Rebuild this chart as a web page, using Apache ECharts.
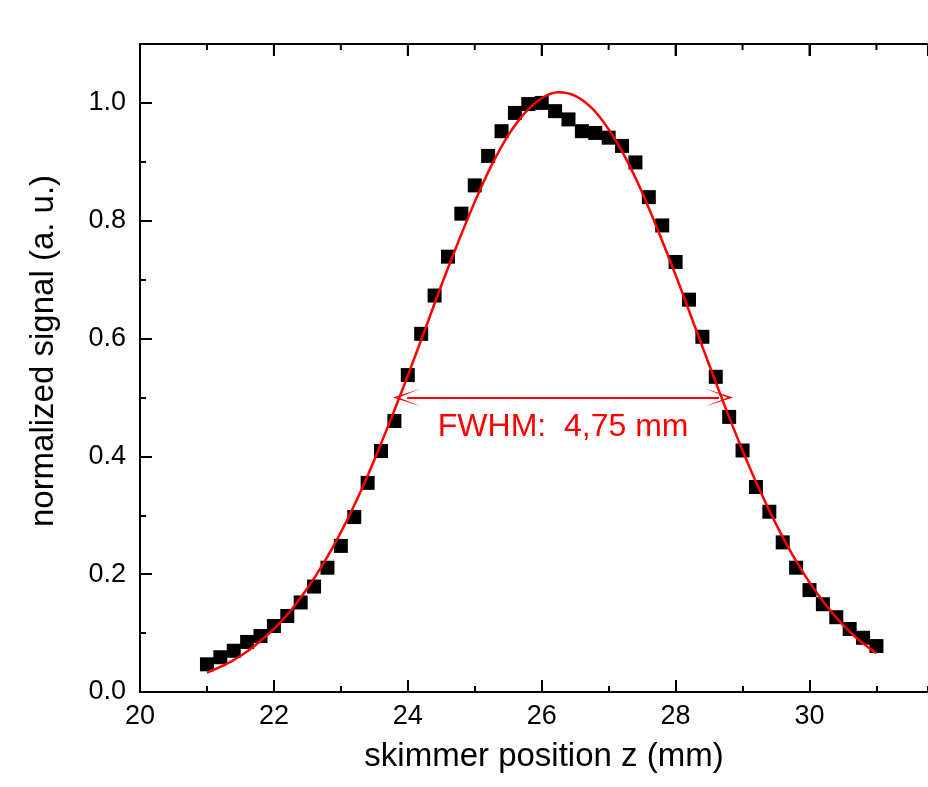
<!DOCTYPE html>
<html>
<head>
<meta charset="utf-8">
<script src="https://cdn.jsdelivr.net/npm/echarts@6/dist/echarts.min.js"></script>
<style>
html,body{margin:0;padding:0;background:#fff;}
#chart{width:928px;height:787px;}
</style>
</head>
<body>
<div id="chart"></div>
<script>
// measured data points (skimmer position z in mm, normalized signal)
var zPos = [21.0,21.2,21.4,21.6,21.8,22.0,22.2,22.4,22.6,22.8,23.0,23.2,23.4,23.6,23.8,24.0,24.2,24.4,24.6,24.8,
            25.0,25.2,25.4,25.6,25.8,26.0,26.2,26.4,26.6,26.8,27.0,27.2,27.4,27.6,27.8,28.0,28.2,28.4,28.6,28.8,
            29.0,29.2,29.4,29.6,29.8,30.0,30.2,30.4,30.6,30.8,31.0];
var signal = [0.047,0.059,0.070,0.085,0.095,0.112,0.129,0.152,0.179,0.211,0.248,0.297,0.355,0.409,0.460,0.538,0.608,0.673,0.739,0.812,
              0.860,0.910,0.952,0.983,0.998,1.000,0.986,0.972,0.952,0.949,0.941,0.927,0.899,0.840,0.792,0.730,0.666,0.603,0.535,0.467,
              0.410,0.348,0.306,0.254,0.211,0.173,0.149,0.127,0.107,0.092,0.078];
// fit curve
var fitZ = [21.0,21.25,21.5,21.75,22.0,22.25,22.5,22.75,23.0,23.25,23.5,23.75,24.0,24.25,24.5,24.75,25.0,25.25,25.5,25.75,
            26.0,26.25,26.5,26.75,27.0,27.25,27.5,27.75,28.0,28.25,28.5,28.75,29.0,29.25,29.5,29.75,30.0,30.25,30.5,30.75,31.0];
var fitY = [0.033,0.045,0.061,0.082,0.107,0.138,0.176,0.220,0.271,0.329,0.394,0.464,0.537,0.613,0.690,0.763,0.832,0.894,0.945,0.983,
            1.008,1.018,1.012,0.991,0.955,0.907,0.848,0.780,0.708,0.632,0.556,0.481,0.410,0.344,0.285,0.232,0.186,0.147,0.114,0.087,0.066];
// FWHM annotation
var fwhmStart = 23.99, fwhmEnd = 28.65, fwhmLevel = 0.5;
var fwhmText = 'FWHM:  4,75 mm';
// axis ranges / ticks
var xMin = 20, xMax = 31.77, xStep = 2, xMinorStep = 1;
var yMin = 0, yMax = 1.1, yStep = 0.2, yMinorStep = 0.1;
// tick positions along the top frame edge (mm)
var topMajorTicks = [22, 24, 26, 28, 30];
var topMinorTicks = [21, 23, 25, 27, 29, 31];

var FONT = 'Arial, "Liberation Sans", sans-serif';
var scatterData = zPos.map(function(z,i){return [z, signal[i]];});
var fitData = fitZ.map(function(z,i){return [z, fitY[i]];});
var topMajorData = topMajorTicks.map(function(z){return [z, yMax];});
var topMinorData = topMinorTicks.map(function(z){return [z, yMax];});

function axLine(){ return {show:true, onZero:false, lineStyle:{color:'#000', width:2}}; }
function noLine(){ return {show:false, onZero:false}; }
function tick(len){ return {show:true, inside:true, length:len, lineStyle:{color:'#000', width:2}}; }

var chart = echarts.init(document.getElementById('chart'));
chart.setOption({
  animation:false,
  grid:{left:140, top:44, bottom:95, right:0},
  xAxis:[{
    type:'value', position:'bottom', min:xMin, max:xMax, interval:xStep,
    name:'skimmer position z (mm)', nameLocation:'middle', nameGap:48,
    nameTextStyle:{fontFamily:FONT, fontSize:33, color:'#000', padding:[0,0,0,20]},
    axisLine:axLine(), axisTick:tick(12),
    axisLabel:{fontFamily:FONT, fontSize:27, color:'#000', margin:11, showMaxLabel:false},
    splitLine:{show:false}
  },{
    type:'value', position:'top', min:xMin, max:xMax, interval:xStep,
    axisLine:axLine(), axisTick:tick(12), axisLabel:{show:false}, splitLine:{show:false}
  },{
    type:'value', position:'bottom', min:xMin, max:xMax, interval:xMinorStep,
    axisLine:noLine(), axisTick:tick(6), axisLabel:{show:false}, splitLine:{show:false}
  }],
  yAxis:[{
    type:'value', position:'left', min:yMin, max:yMax, interval:yStep,
    name:'normalized signal (a. u.)', nameLocation:'middle', nameGap:80,
    nameTextStyle:{fontFamily:FONT, fontSize:33, color:'#000', padding:[0,0,0,34]},
    axisLine:axLine(), axisTick:tick(12),
    axisLabel:{fontFamily:FONT, fontSize:27, color:'#000', margin:14, showMaxLabel:false,
      formatter:function(v){return v.toFixed(1);}},
    splitLine:{show:false}
  },{
    type:'value', position:'left', min:yMin, max:yMax, interval:yMinorStep,
    axisLine:noLine(), axisTick:tick(6), axisLabel:{show:false}, splitLine:{show:false}
  }],
  series:[{
    type:'scatter', xAxisIndex:0, yAxisIndex:0, data:scatterData,
    symbol:'rect', symbolSize:14, itemStyle:{color:'#000', opacity:1}, silent:true
  },{
    type:'line', xAxisIndex:0, yAxisIndex:0, data:fitData, smooth:0.3,
    showSymbol:false, lineStyle:{color:'#ff0000', width:2.5}, z:3, silent:true,
    markLine:{
      silent:true, animation:false,
      symbol:['path://M10,0 L20,30 L10,6 L0,30 Z','path://M10,0 L20,30 L10,6 L0,30 Z'],
      symbolSize:[18,28],
      symbolKeepAspect:false,
      lineStyle:{color:'#ff0000', width:2.2, type:'solid'},
      label:{show:true, position:'insideMiddleBottom', formatter:fwhmText,
        fontFamily:FONT, fontSize:32, color:'#ff0000', distance:14},
      data:[[{coord:[fwhmStart, fwhmLevel]},{coord:[fwhmEnd, fwhmLevel]}]]
    }
  },{
    // inward tick marks on the top frame edge
    type:'scatter', xAxisIndex:0, yAxisIndex:0, data:topMajorData, clip:false,
    symbol:'rect', symbolSize:[2,12], symbolOffset:[0,6],
    itemStyle:{color:'#000', opacity:1}, silent:true, z:5
  },{
    type:'scatter', xAxisIndex:0, yAxisIndex:0, data:topMinorData, clip:false,
    symbol:'rect', symbolSize:[2,6], symbolOffset:[0,3],
    itemStyle:{color:'#000', opacity:1}, silent:true, z:5
  }]
});
</script>
</body>
</html>
